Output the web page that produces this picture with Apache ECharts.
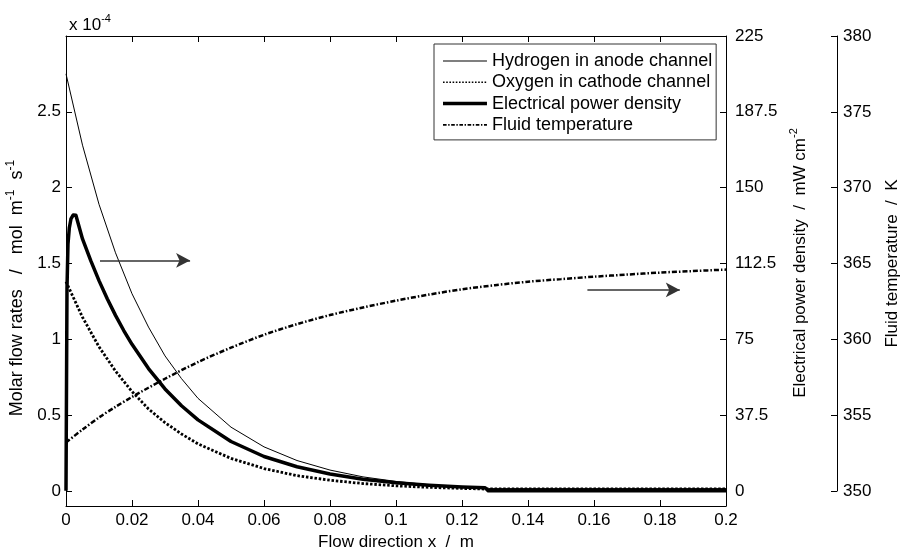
<!DOCTYPE html>
<html>
<head>
<meta charset="utf-8">
<script src="https://cdn.jsdelivr.net/npm/echarts@6/dist/echarts.min.js"></script>
<style>
  html, body { margin: 0; padding: 0; background: #fff; }
  #chart { width: 902px; height: 553px; }
</style>
</head>
<body>
<div id="chart"></div>
<script>
// Flow direction positions (m) shared by the molar flow curves
const flowX = [0, 0.005, 0.01, 0.015, 0.02, 0.025, 0.03, 0.035, 0.04, 0.05, 0.06, 0.07,
  0.08, 0.09, 0.10, 0.11, 0.12, 0.127, 0.128, 0.14, 0.16, 0.18, 0.2];
// Molar flow rates in units of 1e-4 mol m^-1 s^-1
const hydrogen = [2.75, 2.28, 1.89, 1.57, 1.30, 1.08, 0.89, 0.74, 0.61, 0.42, 0.29, 0.20,
  0.137, 0.092, 0.062, 0.040, 0.025, 0.018, 0.015, 0.015, 0.015, 0.015, 0.015];
const oxygen = [1.38, 1.145, 0.95, 0.79, 0.655, 0.54, 0.45, 0.375, 0.31, 0.214, 0.147, 0.10,
  0.07, 0.048, 0.033, 0.023, 0.016, 0.012, 0.012, 0.012, 0.012, 0.012, 0.012];

// Electrical power density (mW cm^-2)
const powerX = [0, 0.0003, 0.0006, 0.001, 0.0015, 0.0022, 0.003, 0.005, 0.0075, 0.01, 0.0125,
  0.015, 0.0175, 0.02, 0.025, 0.03, 0.035, 0.04, 0.05, 0.06, 0.07, 0.08, 0.09, 0.10, 0.11,
  0.12, 0.127, 0.128, 0.2];
const power = [0, 100, 122, 130, 134.5, 136.5, 136.3, 124.6, 113.9, 104.0, 95.0,
  86.8, 79.3, 72.5, 60.5, 50.4, 42.1, 35.1, 24.4, 17.0, 11.9, 8.3, 5.75, 4.0, 2.8,
  1.9, 1.5, 0, 0];

// Fluid temperature (K)
const tempX = [0, 0.005, 0.01, 0.015, 0.02, 0.03, 0.04, 0.05, 0.06, 0.07, 0.08, 0.09, 0.10,
  0.11, 0.12, 0.13, 0.14, 0.15, 0.16, 0.17, 0.18, 0.19, 0.2];
const temperature = [353.2, 354.05, 354.85, 355.55, 356.2, 357.4, 358.5, 359.45, 360.3, 361.0,
  361.6, 362.1, 362.55, 362.95, 363.3, 363.57, 363.8, 363.97, 364.13, 364.27, 364.4, 364.5, 364.6];

// Tick values
const xTicks = [0, 0.02, 0.04, 0.06, 0.08, 0.1, 0.12, 0.14, 0.16, 0.18, 0.2];
const flowTicks = [0, 0.5, 1, 1.5, 2, 2.5];
const powerTicks = [0, 37.5, 75, 112.5, 150, 187.5, 225];
const tempTicks = [350, 355, 360, 365, 370, 375, 380];

// Direction arrows (data units of the flow-rate axis)
const arrows = [
  [[0.0103, 1.52], [0.0376, 1.52]],
  [[0.158, 1.325], [0.186, 1.325]]
];

const FONT = 'Liberation Sans, Arial, Helvetica, sans-serif';
const pairs = (xs, ys) => xs.map((x, i) => [x, ys[i]]);

// Legend glyphs: 44x14 boxes holding a horizontal stroke pattern
const CORNERS = 'M0,0h0.01v0.01h-0.01zM44,14h0.01v0.01h-0.01z';
function patternIcon(thick, seq) {
  let d = CORNERS, x = 0, i = 0;
  const y0 = 7 - thick / 2;
  while (x < 44) {
    const len = Math.min(seq[i % seq.length], 44 - x);
    if (i % 2 === 0) d += `M${x},${y0}h${len}v${thick}h${-len}z`;
    x += seq[i % seq.length];
    i++;
  }
  return 'path://' + d;
}
const legendIcons = {
  'Hydrogen in anode channel': patternIcon(1, [44, 0]),
  'Oxygen in cathode channel': patternIcon(1.6, [1.6, 1.6]),
  'Electrical power density': patternIcon(3.5, [44, 0]),
  'Fluid temperature': patternIcon(1.6, [3.6, 1.6, 1.4, 1.6])
};

const baseText = { fontFamily: FONT, fontSize: 17, color: '#000', fontWeight: 'normal' };
const supRich = {
  sup: { fontFamily: FONT, fontSize: 11, color: '#000', fontWeight: 'normal', verticalAlign: 'top' },
  n: { fontFamily: FONT, fontSize: 17, color: '#000', fontWeight: 'normal', lineHeight: 24 }
};
const supRichLarge = {
  sup: { fontFamily: FONT, fontSize: 12, color: '#000', fontWeight: 'normal', verticalAlign: 'top' },
  n: { fontFamily: FONT, fontSize: 18, color: '#000', fontWeight: 'normal', lineHeight: 25 }
};
const axisLine = { show: true, onZero: false, lineStyle: { color: '#000', width: 1 } };
const axisTick = (vals) => ({ show: true, inside: true, length: 6, lineStyle: { color: '#000' }, customValues: vals });

const chart = echarts.init(document.getElementById('chart'), null, { renderer: 'canvas' });

chart.setOption({
  animation: false,
  backgroundColor: '#fff',
  title: {
    text: '{n|x 10}{sup|-4}',
    left: 64, top: 8,
    textStyle: { rich: supRich, fontWeight: 'normal' }
  },
  grid: [
    { left: 66, right: 176, top: 36, bottom: 47, outerBoundsMode: 'none', containLabel: false },
    { left: 66, right: 176, top: 36, bottom: 62, outerBoundsMode: 'none', containLabel: false }
  ],
  legend: {
    left: 434, top: 44,
    orient: 'vertical',
    padding: [7, 4, 5, 9],
    itemWidth: 44, itemHeight: 14, itemGap: 1.3,
    backgroundColor: '#fff',
    borderColor: '#333', borderWidth: 1,
    textStyle: { fontFamily: FONT, fontSize: 18, color: '#000', lineHeight: 20 },
    data: Object.keys(legendIcons).map(name => ({ name, icon: legendIcons[name] }))
  },
  xAxis: [
    {
      type: 'value', gridIndex: 0, position: 'bottom', min: 0, max: 0.2,
      name: 'Flow direction x  /  m', nameLocation: 'middle', nameGap: 27,
      nameTextStyle: baseText,
      axisLine: axisLine, axisTick: axisTick(xTicks), splitLine: { show: false },
      axisLabel: { customValues: xTicks, margin: 6, ...baseText }
    },
    {
      type: 'value', gridIndex: 0, position: 'top', min: 0, max: 0.2,
      axisLine: axisLine, axisTick: axisTick(xTicks), splitLine: { show: false },
      axisLabel: { show: false }
    },
    { type: 'value', gridIndex: 1, min: 0, max: 0.2, show: false }
  ],
  yAxis: [
    {
      type: 'value', gridIndex: 0, position: 'left', min: -0.1, max: 3,
      name: '{n|Molar flow rates   /   mol  m}{sup|-1}{n|  s}{sup|-1}',
      nameLocation: 'middle', nameGap: 31,
      nameTextStyle: { rich: supRichLarge, padding: [0, 34, 0, 0] },
      axisLine: axisLine, axisTick: axisTick(flowTicks), splitLine: { show: false },
      axisLabel: { customValues: flowTicks, margin: 5, ...baseText }
    },
    {
      type: 'value', gridIndex: 0, position: 'right', min: -7.5, max: 225,
      name: '{n|Electrical power density  /  mW cm}{sup|-2}',
      nameLocation: 'middle', nameGap: 62,
      nameTextStyle: { rich: supRich, padding: [0, 0, 0, 16] },
      axisLine: axisLine, axisTick: axisTick(powerTicks), splitLine: { show: false },
      axisLabel: { customValues: powerTicks, margin: 9, ...baseText }
    },
    {
      type: 'value', gridIndex: 1, position: 'right', offset: 111, min: 350, max: 380,
      name: 'Fluid temperature  /  K',
      nameLocation: 'middle', nameGap: 47,
      nameTextStyle: baseText,
      axisLine: axisLine, axisTick: axisTick(tempTicks), splitLine: { show: false },
      axisLabel: { customValues: tempTicks, margin: 6, ...baseText }
    }
  ],
  series: [
    {
      name: 'Hydrogen in anode channel', type: 'line', xAxisIndex: 0, yAxisIndex: 0,
      data: pairs(flowX, hydrogen), symbol: 'none',
      lineStyle: { color: '#000', width: 1 }, itemStyle: { color: '#000' },
      markLine: {
        silent: true, symbol: ['none', 'arrow'], symbolSize: [11, 14],
        label: { show: false },
        lineStyle: { color: '#333', width: 1.5, type: 'solid' },
        data: arrows.map(a => [{ coord: a[0] }, { coord: a[1] }])
      }
    },
    {
      name: 'Oxygen in cathode channel', type: 'line', xAxisIndex: 0, yAxisIndex: 0,
      data: pairs(flowX, oxygen), symbol: 'none',
      lineStyle: { color: '#000', width: 2.8, type: [2.5, 1.8] }, itemStyle: { color: '#000' }
    },
    {
      name: 'Electrical power density', type: 'line', xAxisIndex: 0, yAxisIndex: 1,
      data: pairs(powerX, power), symbol: 'none',
      lineStyle: { color: '#000', width: 3.5, join: 'round' }, itemStyle: { color: '#000' }
    },
    {
      name: 'Fluid temperature', type: 'line', xAxisIndex: 2, yAxisIndex: 2,
      data: pairs(tempX, temperature), symbol: 'none', smooth: 0.3,
      lineStyle: { color: '#000', width: 2.5, type: [5, 2, 1.5, 2] }, itemStyle: { color: '#000' }
    }
  ]
});
</script>
</body>
</html>
